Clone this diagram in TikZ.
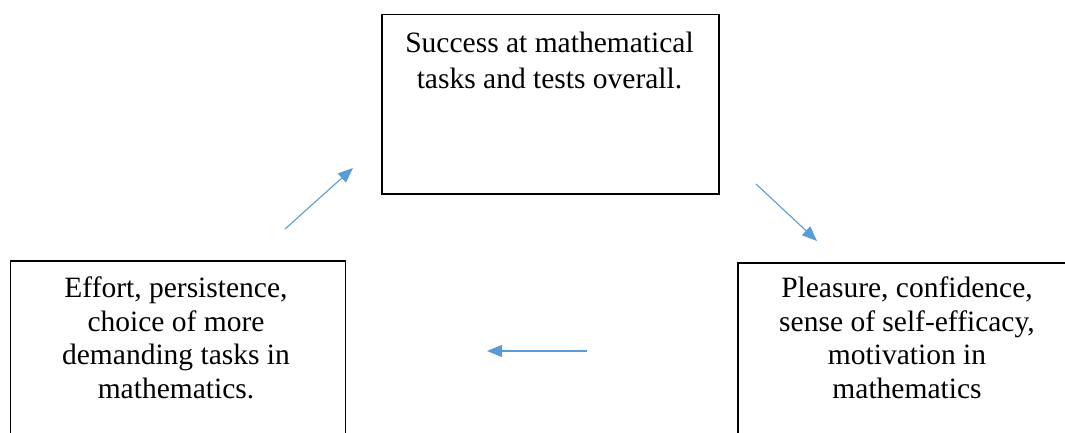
\documentclass[tikz,border=0pt]{standalone}
\usepackage{fontspec}
\setmainfont{Liberation Serif}
\usetikzlibrary{arrows.meta}
\definecolor{arrowblue}{HTML}{5B9BD5}
\tikzset{
  box/.style={draw=black, line width=1.5pt, anchor=north west, inner sep=0pt},
  boxtext/.style={anchor=base, align=center, inner sep=0pt, font=\fontsize{29.5}{33.5}\selectfont},
  flow/.style={draw=arrowblue, line width=1.1pt, -{Triangle[length=15pt,width=12pt]}}
}
\begin{document}
\begin{tikzpicture}[x=1pt,y=-1pt]
\useasboundingbox (0,0) rectangle (1065,433);
\clip (0,0) rectangle (1065,433);
\node[box, minimum width=337pt, minimum height=179pt] (top) at (381,14) {};
\node[box, minimum width=335pt, minimum height=250pt] (left) at (9.5,260) {};
\node[box, minimum width=360pt, minimum height=250pt] (right) at (737,262) {};
\node[boxtext] (toptext) at (549.5,89) {Success at mathematical\\[2.5pt]tasks and tests overall.};
\node[boxtext] (lefttext) at (176,398) {Effort, persistence,\\choice of more\\demanding tasks in\\mathematics.};
\node[boxtext] (righttext) at (907,398) {Pleasure, confidence,\\sense of self-efficacy,\\motivation in\\mathematics};
\coordinate (a1s) at (285,229);
\coordinate (a1e) at (353,168);
\coordinate (a2s) at (756,184);
\coordinate (a2e) at (817,241);
\coordinate (a3s) at (587,351);
\coordinate (a3e) at (487,351);
\draw[flow] (a1s) -- (a1e);
\draw[flow] (a2s) -- (a2e);
\draw[flow] (a3s) -- (a3e);
\end{tikzpicture}
\end{document}
